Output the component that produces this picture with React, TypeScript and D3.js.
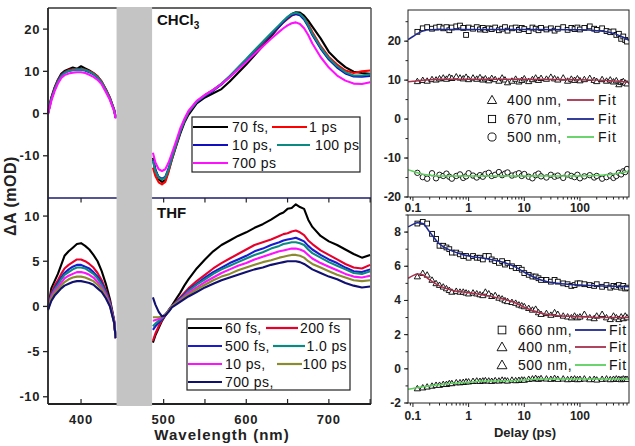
import React from 'react';
import * as d3 from 'd3';

// ---------- Spectra (left panels) ----------
const wlLeft = [360, 364, 368, 372, 376, 380, 385, 390, 395, 400, 405, 410, 415, 420, 425, 430, 435, 440, 442];
const wlRight = [487, 490, 494, 498, 502, 506, 510, 515, 520, 525, 530, 540, 550, 560, 570, 580, 590, 600, 610, 620, 630, 640, 645, 650, 655, 660, 665, 670, 675, 680, 690, 700, 710, 720, 730, 740, 750];

// CHCl3
const c70fsL = [0.3, 3.8, 6.2, 8.0, 9.4, 10.1, 10.5, 10.9, 10.6, 11.2, 10.7, 10.2, 9.6, 8.8, 7.5, 5.7, 3.6, 0.9, -1.0];
const c70fsR = [-10.5, -13.2, -15.6, -16.2, -15.8, -13.5, -10.8, -7.8, -4.8, -2.2, -0.3, 2.4, 3.8, 4.8, 5.8, 7.6, 9.6, 11.6, 13.8, 16.0, 18.3, 20.6, 21.8, 22.7, 23.6, 24.0, 23.9, 23.2, 22.0, 20.6, 17.8, 14.6, 12.6, 11.0, 9.9, 9.6, 9.4];
const c1psL = [0.1, 3.6, 6.0, 7.9, 9.1, 9.8, 10.3, 10.5, 10.6, 10.5, 10.4, 10.0, 9.6, 8.8, 7.6, 5.8, 3.8, 1.0, -0.8];
const c1psR = [-12.8, -14.8, -16.3, -16.8, -16.2, -13.8, -10.9, -7.6, -4.3, -1.8, 0.2, 2.8, 4.4, 5.6, 7.0, 8.7, 10.6, 12.6, 14.6, 16.7, 18.7, 20.6, 21.6, 22.4, 23.2, 23.6, 23.4, 22.6, 21.2, 19.3, 16.0, 13.4, 11.6, 10.2, 9.6, 10.0, 10.2];
const c10psL = [0.0, 3.4, 5.8, 7.7, 9.0, 9.7, 10.1, 10.3, 10.4, 10.4, 10.2, 9.8, 9.3, 8.5, 7.3, 5.5, 3.5, 0.8, -1.0];
const c10psR = [-11.0, -13.4, -15.0, -15.4, -15.0, -13.0, -10.4, -7.3, -4.2, -1.7, 0.3, 2.7, 4.2, 5.4, 6.9, 8.7, 10.7, 12.7, 14.8, 16.8, 18.8, 20.7, 21.7, 22.6, 23.3, 23.6, 23.3, 22.3, 20.6, 18.6, 15.4, 12.8, 10.9, 9.5, 8.8, 8.7, 8.9];
const c100psL = [0.0, 3.4, 5.7, 7.6, 8.9, 9.6, 10.1, 10.3, 10.4, 10.4, 10.3, 9.9, 9.4, 8.6, 7.4, 5.6, 3.6, 0.9, -0.9];
const c100psR = [-11.2, -13.6, -15.2, -15.6, -15.2, -13.2, -10.6, -7.4, -4.3, -1.8, 0.3, 2.8, 4.3, 5.6, 7.1, 8.9, 10.9, 12.9, 15.0, 17.0, 19.0, 21.0, 22.0, 22.9, 23.6, 23.9, 23.6, 22.6, 20.9, 18.9, 15.7, 13.1, 11.2, 9.8, 9.0, 9.0, 9.3];
const c700psL = [-0.2, 3.0, 5.3, 7.1, 8.4, 9.1, 9.5, 9.7, 9.8, 9.8, 9.6, 9.2, 8.7, 8.0, 6.9, 5.1, 3.2, 0.6, -1.2];
const c700psR = [-9.3, -11.6, -13.2, -13.6, -13.2, -11.6, -9.4, -6.6, -3.6, -1.3, 0.6, 3.0, 4.4, 5.6, 7.0, 8.6, 10.4, 12.2, 14.1, 15.9, 17.7, 19.4, 20.2, 20.9, 21.4, 21.6, 21.2, 20.2, 18.6, 16.6, 13.4, 10.9, 9.0, 7.8, 7.1, 7.0, 7.4];

// THF
const t60fsL = [-0.3, 2.0, 2.8, 3.6, 4.6, 5.6, 6.1, 6.5, 6.9, 7.0, 6.7, 6.3, 5.7, 5.0, 3.9, 2.5, 0.8, -1.5, -3.5];
const t200fsL = [-0.3, 1.5, 2.3, 2.9, 3.6, 4.2, 4.6, 4.9, 5.2, 5.2, 5.0, 4.7, 4.3, 3.7, 2.9, 1.8, 0.5, -1.6, -3.5];
const t500fsL = [-0.3, 1.3, 2.0, 2.6, 3.2, 3.7, 4.1, 4.4, 4.6, 4.6, 4.4, 4.2, 3.8, 3.3, 2.6, 1.6, 0.4, -1.6, -3.5];
const t1psL = [-0.3, 1.2, 1.9, 2.4, 3.0, 3.5, 3.8, 4.1, 4.3, 4.3, 4.2, 3.9, 3.6, 3.1, 2.4, 1.5, 0.3, -1.7, -3.5];
const t10psL = [-0.3, 1.1, 1.7, 2.1, 2.6, 3.1, 3.4, 3.6, 3.8, 3.8, 3.7, 3.5, 3.2, 2.7, 2.1, 1.3, 0.2, -1.7, -3.5];
const t100psL = [-0.3, 0.9, 1.5, 1.9, 2.3, 2.7, 3.0, 3.2, 3.3, 3.3, 3.2, 3.0, 2.8, 2.4, 1.9, 1.1, 0.1, -1.8, -3.5];
const t700psL = [-0.4, 0.6, 1.2, 1.6, 2.0, 2.3, 2.5, 2.7, 2.8, 2.8, 2.7, 2.6, 2.4, 2.0, 1.6, 0.9, 0.0, -1.8, -3.5];
const t60fsR = [-4.0, -3.2, -2.4, -1.6, -1.0, -0.4, 0.1, 0.8, 1.5, 2.3, 3.0, 4.2, 5.2, 6.1, 6.8, 7.3, 7.8, 8.2, 8.7, 9.1, 9.6, 10.2, 10.4, 10.8, 10.9, 11.3, 11.0, 10.8, 9.6, 8.8, 7.8, 7.2, 6.8, 6.3, 5.8, 5.4, 5.7];
const t200fsR = [-3.8, -3.0, -2.2, -1.5, -1.0, -0.5, 0.0, 0.5, 1.0, 1.5, 2.0, 2.8, 3.5, 4.2, 4.8, 5.3, 5.8, 6.3, 6.8, 7.1, 7.4, 7.8, 8.0, 8.1, 8.3, 8.4, 8.2, 7.9, 7.3, 6.9, 6.2, 5.7, 5.2, 4.7, 4.3, 4.2, 4.6];
const t500fsR = [-2.6, -2.2, -1.8, -1.4, -0.9, -0.5, 0.0, 0.4, 0.9, 1.3, 1.8, 2.5, 3.2, 3.8, 4.3, 4.8, 5.2, 5.6, 6.1, 6.4, 6.8, 7.1, 7.3, 7.4, 7.5, 7.6, 7.4, 7.2, 6.7, 6.3, 5.7, 5.2, 4.8, 4.3, 3.9, 3.8, 4.1];
const t1psR = [-2.2, -1.9, -1.6, -1.3, -0.9, -0.5, 0.0, 0.4, 0.8, 1.2, 1.7, 2.4, 3.0, 3.6, 4.1, 4.5, 4.9, 5.3, 5.7, 6.0, 6.4, 6.7, 6.9, 7.0, 7.1, 7.1, 7.0, 6.8, 6.3, 5.9, 5.4, 4.9, 4.5, 4.1, 3.7, 3.6, 3.9];
const t10psR = [-1.6, -1.5, -1.4, -1.2, -0.9, -0.5, 0.0, 0.3, 0.7, 1.1, 1.5, 2.1, 2.7, 3.2, 3.7, 4.1, 4.5, 4.8, 5.2, 5.5, 5.8, 6.1, 6.2, 6.3, 6.4, 6.4, 6.3, 6.1, 5.7, 5.3, 4.8, 4.4, 4.0, 3.6, 3.3, 3.2, 3.4];
const t100psR = [-1.2, -1.2, -1.2, -1.1, -0.9, -0.5, 0.0, 0.3, 0.6, 1.0, 1.3, 1.9, 2.4, 2.9, 3.3, 3.6, 4.0, 4.3, 4.6, 4.9, 5.1, 5.4, 5.5, 5.6, 5.7, 5.7, 5.6, 5.4, 5.0, 4.7, 4.3, 3.9, 3.5, 3.2, 2.9, 2.8, 2.9];
const t700psR = [1.0, 0.2, -0.6, -1.1, -1.0, -0.6, -0.1, 0.2, 0.5, 0.8, 1.1, 1.6, 2.1, 2.5, 2.9, 3.2, 3.5, 3.8, 4.1, 4.3, 4.6, 4.8, 4.9, 5.0, 5.0, 5.0, 4.9, 4.7, 4.4, 4.1, 3.7, 3.3, 3.0, 2.6, 2.3, 2.1, 2.2];

// ---------- Kinetics (right panels) ----------
const delays = [0.12, 0.15, 0.18, 0.22, 0.26, 0.3, 0.35, 0.4, 0.45, 0.5, 0.6, 0.7, 0.8, 0.9, 1.0, 1.2, 1.4, 1.6, 1.8, 2.0, 2.3, 2.6, 3.0, 3.5, 4.0, 4.5, 5.0, 6.0, 7.0, 8.0, 9.0, 10, 12, 14, 16, 18, 20, 25, 30, 35, 40, 50, 60, 70, 80, 90, 100, 120, 150, 180, 200, 250, 300, 350, 400, 450, 500, 550, 600, 650, 700];

const chclSq670 = [22.4, 23.3, 23.6, 23.2, 23.5, 23.7, 23.3, 23.6, 22.8, 23.5, 23.8, 24.0, 23.4, 21.6, 23.5, 23.2, 23.6, 23.0, 23.4, 22.9, 23.3, 23.1, 23.5, 22.8, 23.2, 23.6, 22.7, 23.3, 23.5, 22.9, 23.4, 23.1, 22.6, 23.5, 23.2, 22.8, 23.4, 23.0, 23.3, 22.7, 23.2, 23.6, 22.9, 23.4, 23.1, 23.5, 23.0, 23.4, 23.8, 23.2, 22.9, 23.3, 22.6, 22.3, 22.5, 21.6, 21.9, 20.6, 21.2, 20.3, 19.9];
const chclTri400 = [9.7, 10.0, 9.8, 10.2, 10.1, 10.4, 10.6, 10.3, 10.8, 10.5, 10.9, 10.6, 10.4, 10.8, 10.2, 10.6, 10.3, 10.7, 10.1, 10.4, 9.9, 10.5, 10.2, 9.8, 10.6, 10.1, 9.4, 9.8, 10.3, 9.6, 10.0, 10.4, 9.7, 10.2, 10.6, 10.0, 10.5, 10.3, 10.8, 10.4, 10.1, 10.6, 9.8, 10.3, 10.0, 10.4, 9.9, 10.2, 10.5, 10.0, 9.7, 10.2, 9.8, 10.1, 9.6, 9.9, 8.9, 9.5, 9.7, 9.3, 9.1];
const chclCirc500 = [-13.8, -14.9, -15.3, -13.9, -15.2, -14.3, -14.6, -14.0, -14.8, -15.3, -14.6, -14.2, -15.1, -14.7, -13.9, -14.5, -15.0, -14.4, -14.8, -14.1, -13.8, -14.6, -14.3, -13.6, -14.4, -14.0, -13.7, -14.5, -14.2, -13.9, -14.6, -14.1, -14.8, -15.2, -14.4, -14.0, -14.7, -15.0, -14.3, -14.8, -14.5, -15.1, -14.2, -14.6, -14.9, -14.3, -15.2, -14.7, -14.4, -15.0, -14.6, -15.3, -14.9, -14.5, -15.1, -14.6, -13.8, -14.2, -13.4, -13.6, -12.8];
const fitDelaysTop = [0.082, 0.1, 0.13, 0.16, 0.2, 0.3, 1, 10, 100, 200, 300, 400, 500, 600, 760];
const chclFit670 = [20.4, 21.2, 22.2, 22.7, 22.9, 23.0, 23.0, 23.0, 22.9, 22.7, 22.4, 22.0, 21.5, 21.0, 20.2];
const chclFit400 = [9.6, 9.7, 9.9, 10.0, 10.1, 10.2, 10.2, 10.2, 10.1, 10.0, 9.9, 9.8, 9.7, 9.6, 9.4];
const chclFit500 = [-13.0, -13.4, -13.9, -14.2, -14.4, -14.6, -14.6, -14.6, -14.6, -14.5, -14.3, -14.1, -13.9, -13.7, -13.3];

const thfSq660 = [8.5, 8.6, 8.5, 7.9, 7.6, 7.2, 7.2, 7.1, 7.0, 6.8, 6.8, 6.7, 6.6, 6.6, 6.5, 6.6, 6.5, 6.5, 6.4, 6.6, 6.6, 6.4, 6.3, 6.2, 6.3, 6.1, 6.2, 6.0, 5.9, 5.9, 5.8, 5.6, 5.5, 5.4, 5.4, 5.3, 5.2, 5.2, 5.1, 5.2, 5.1, 5.0, 4.95, 4.85, 4.9, 5.0, 5.0, 4.95, 4.9, 4.85, 4.95, 4.8, 4.9, 4.75, 4.85, 4.8, 4.9, 4.75, 4.85, 4.7, 4.75];
const thfTri400 = [5.4, 5.6, 5.5, 5.2, 5.0, 4.9, 4.8, 4.7, 4.6, 4.5, 4.55, 4.5, 4.5, 4.45, 4.4, 4.45, 4.4, 4.35, 4.3, 4.5, 4.4, 4.25, 4.3, 4.15, 4.1, 4.0, 3.95, 3.9, 3.85, 3.75, 3.7, 3.65, 3.55, 3.45, 3.5, 3.3, 3.2, 3.25, 3.15, 3.3, 3.2, 3.1, 3.05, 3.0, 3.1, 3.0, 3.05, 3.2, 3.0, 2.95, 3.1, 3.2, 3.0, 2.9, 3.1, 3.0, 2.9, 3.05, 2.95, 3.1, 3.0];
const thfTri500 = [-1.15, -1.1, -1.05, -1.0, -0.95, -0.95, -0.9, -0.9, -0.85, -0.85, -0.8, -0.8, -0.78, -0.75, -0.75, -0.72, -0.7, -0.72, -0.7, -0.68, -0.7, -0.72, -0.68, -0.7, -0.65, -0.68, -0.7, -0.65, -0.68, -0.66, -0.64, -0.65, -0.6, -0.58, -0.55, -0.6, -0.56, -0.58, -0.6, -0.55, -0.6, -0.58, -0.62, -0.6, -0.58, -0.62, -0.6, -0.58, -0.62, -0.6, -0.64, -0.6, -0.58, -0.62, -0.6, -0.58, -0.6, -0.62, -0.58, -0.6, -0.6];
const fitDelaysBot = [0.082, 0.1, 0.12, 0.15, 0.2, 0.3, 0.5, 1, 2, 4, 7, 10, 20, 40, 100, 300, 760];
const thfFit660 = [8.3, 8.45, 8.55, 8.5, 8.0, 7.3, 6.9, 6.6, 6.45, 6.25, 5.95, 5.65, 5.2, 5.0, 4.9, 4.85, 4.8];
const thfFit400 = [5.3, 5.45, 5.55, 5.5, 5.2, 4.85, 4.6, 4.45, 4.3, 4.1, 3.85, 3.6, 3.25, 3.1, 3.05, 3.0, 3.0];
const thfFit500 = [-1.2, -1.15, -1.1, -1.05, -1.0, -0.93, -0.85, -0.78, -0.72, -0.7, -0.68, -0.65, -0.6, -0.6, -0.6, -0.6, -0.6];

// ---------- tick labels ----------
const wlTicks = [400, 500, 600, 700];
const wlMinor = [400, 450, 500, 550, 600, 650, 700, 750];
const chclYTicks = [20, 10, 0, -10];
const thfYTicks = [10, 5, 0, -5, -10];
const rTopYTicks = [20, 10, 0, -10, -20];
const rBotYTicks = [8, 6, 4, 2, 0, -2];
const delayTickLabels = ['0.1', '1', '10', '100'];

const FONT = "Arial, 'Liberation Sans', Helvetica, sans-serif";

const chclSeries = [
  { label: '70 fs,', color: '#000000', L: c70fsL, R: c70fsR },
  { label: '1 ps', color: '#ff0000', L: c1psL, R: c1psR },
  { label: '10 ps,', color: '#1010c0', L: c10psL, R: c10psR },
  { label: '100 ps', color: '#0a8a80', L: c100psL, R: c100psR },
  { label: '700 ps', color: '#ff10ff', L: c700psL, R: c700psR },
];
const thfSeries = [
  { label: '60 fs,', color: '#000000', L: t60fsL, R: t60fsR },
  { label: '200 fs', color: '#e8002a', L: t200fsL, R: t200fsR },
  { label: '500 fs,', color: '#1a1ad0', L: t500fsL, R: t500fsR },
  { label: '1.0 ps', color: '#0a8a80', L: t1psL, R: t1psR },
  { label: '10 ps,', color: '#ff10ff', L: t10psL, R: t10psR },
  { label: '100 ps', color: '#8a8a30', L: t100psL, R: t100psR },
  { label: '700 ps,', color: '#101070', L: t700psL, R: t700psR },
];

const FIT_BLUE = '#1f2a90';
const FIT_RED = '#a8304c';
const FIT_GREEN = '#5cd05c';

function Marker({ shape, cx, cy, s = 1 }: { shape: string; cx: number; cy: number; s?: number }) {
  if (shape === 'square') {
    const h = 2.4 * s;
    return <rect x={cx - h} y={cy - h} width={2 * h} height={2 * h} fill="#fff" stroke="#000" strokeWidth={0.9} />;
  }
  if (shape === 'triangle') {
    const h = 3.1 * s;
    return <path d={`M${cx},${cy - h}L${cx + h},${cy + h * 0.75}L${cx - h},${cy + h * 0.75}Z`} fill="#fff" stroke="#000" strokeWidth={0.9} />;
  }
  return <circle cx={cx} cy={cy} r={2.7 * s} fill="#fff" stroke="#000" strokeWidth={0.9} />;
}

export default function App() {
  const xL = d3.scaleLinear().domain([360, 751]).range([48, 371]);
  const yT = d3.scaleLinear().domain([-20, 25]).range([198, 8]);
  const yB = d3.scaleLinear().domain([-10.8, 12]).range([404, 198]);
  const xR = d3.scaleLog().domain([0.0815, 760]).range([408, 629]);
  const yRT = d3.scaleLinear().domain([-20, 28]).range([197, 10]);
  const yRB = d3.scaleLinear().domain([-2, 9]).range([403, 215]);

  const spec = (xs: number[], ys: number[], y: d3.ScaleLinear<number, number>) =>
    d3.line<number>().x((_, i) => xL(xs[i])).y((d) => y(d))(ys) || '';

  const fitLine = (xs: number[], ys: number[], y: d3.ScaleLinear<number, number>) =>
    d3.line<number>().x((_, i) => xR(xs[i])).y((d) => y(d)).curve(d3.curveMonotoneX)(ys) || '';

  const logTicks = xR.ticks().filter((t) => t >= 0.0815 && t <= 760);
  const isMajor = (t: number) => Math.abs(Math.log10(t) - Math.round(Math.log10(t))) < 1e-6;

  const leftPanel = (series: typeof chclSeries, y: d3.ScaleLinear<number, number>, key: string) => (
    <g key={key}>
      {series.map((s, i) => (
        <g key={i}>
          <path d={spec(wlLeft, s.L, y)} fill="none" stroke={s.color} strokeWidth={2.1} strokeLinejoin="round" />
          <path d={spec(wlRight, s.R, y)} fill="none" stroke={s.color} strokeWidth={2.1} strokeLinejoin="round" />
        </g>
      ))}
    </g>
  );

  const rightPanel = (
    y: d3.ScaleLinear<number, number>,
    yTicks: number[],
    yMinorStep: number,
    pts: { vals: number[]; shape: string }[],
    fits: { xs: number[]; vals: number[]; color: string }[],
    key: string,
    labelY: number
  ) => {
    const [y0, y1] = y.domain();
    const minor = d3.range(Math.ceil(y0 / yMinorStep) * yMinorStep, y1 + 1e-9, yMinorStep);
    const [ry0, ry1] = y.range();
    return (
      <g key={key}>
        <defs>
          <clipPath id={`clip-${key}`}>
            <rect x={408} y={ry1} width={221} height={ry0 - ry1} />
          </clipPath>
        </defs>
        <g clipPath={`url(#clip-${key})`}>
          {pts.map((p, si) => (
            <g key={si}>
              {p.vals.map((v, i) => (
                <Marker key={i} shape={p.shape} cx={xR(delays[i])} cy={y(v)} />
              ))}
            </g>
          ))}
          {fits.map((f, i) => (
            <path key={i} d={fitLine(f.xs, f.vals, y)} fill="none" stroke={f.color} strokeWidth={1.5} />
          ))}
        </g>
        <rect x={408} y={ry1} width={221} height={ry0 - ry1} fill="none" stroke="#222" strokeWidth={1} />
        {minor.map((t, i) => (
          <line key={'m' + i} x1={405.5} x2={408} y1={y(t)} y2={y(t)} stroke="#222" strokeWidth={1} />
        ))}
        {yTicks.map((t) => (
          <g key={t}>
            <line x1={404} x2={408} y1={y(t)} y2={y(t)} stroke="#222" strokeWidth={1} />
            <text x={401} y={y(t) + 4} textAnchor="end" fontSize={12} fontWeight="bold" fill="#222" fontFamily={FONT}>
              {t}
            </text>
          </g>
        ))}
        {logTicks.map((t, i) => (
          <line key={'x' + i} x1={xR(t)} x2={xR(t)} y1={ry0} y2={ry0 + (isMajor(t) ? 4 : 2.5)} stroke="#222" strokeWidth={1} />
        ))}
        {delayTickLabels.map((l) => (
          <text key={l} x={xR(+l)} y={labelY} textAnchor="middle" fontSize={12} fontWeight="bold" fill="#222" fontFamily={FONT}>
            {l}
          </text>
        ))}
      </g>
    );
  };

  const legendLine = (x1: number, x2: number, y: number, color: string) => (
    <line x1={x1} x2={x2} y1={y} y2={y} stroke={color} strokeWidth={2.2} />
  );
  const legendText = (x: number, y: number, t: string, anchor = 'start') => (
    <text x={x} y={y + 5} fontSize={14} fill="#111" fontFamily={FONT} textAnchor={anchor} letterSpacing={0.4}>
      {t}
    </text>
  );

  return (
    <svg width={635} height={446} style={{ position: 'absolute', left: 0, top: 0, background: '#fff' }} fontFamily={FONT}>
      <rect x={0} y={0} width={635} height={446} fill="#fff" />
      {/* left spectra */}
      {leftPanel(chclSeries, yT, 'top')}
      {leftPanel(thfSeries, yB, 'bot')}

      {/* left frames */}
      <line x1={48} x2={371} y1={8} y2={8} stroke="#333" strokeWidth={1.5} />
      <line x1={371} x2={371} y1={8} y2={404} stroke="#555" strokeWidth={1.5} />
      <line x1={48} x2={48} y1={8} y2={404} stroke="#222" strokeWidth={1.8} />
      <line x1={48} x2={371} y1={404} y2={404} stroke="#222" strokeWidth={1.8} />
      <line x1={48} x2={371} y1={198} y2={198} stroke="#1c1c70" strokeWidth={1.5} />
      {wlMinor.map((w) => (
        <g key={w}>
          <line x1={xL(w)} x2={xL(w)} y1={198} y2={202.5} stroke="#222" strokeWidth={1.2} />
          <line x1={xL(w)} x2={xL(w)} y1={404} y2={399} stroke="#222" strokeWidth={1.2} />
        </g>
      ))}
      {chclYTicks.map((t) => (
        <g key={'ct' + t}>
          <line x1={43} x2={48} y1={yT(t)} y2={yT(t)} stroke="#222" strokeWidth={1.3} />
          <text x={40} y={yT(t) + 4.5} textAnchor="end" fontSize={13} fontWeight="bold" fill="#222" letterSpacing={0.6}>
            {t}
          </text>
        </g>
      ))}
      {thfYTicks.map((t) => (
        <g key={'tt' + t}>
          <line x1={43} x2={48} y1={yB(t)} y2={yB(t)} stroke="#222" strokeWidth={1.3} />
          <text x={40} y={yB(t) + 4.5} textAnchor="end" fontSize={13} fontWeight="bold" fill="#222" letterSpacing={0.6}>
            {t}
          </text>
        </g>
      ))}
      {wlTicks.map((w) => (
        <text key={w} x={xL(w)} y={424} textAnchor="middle" fontSize={13} fontWeight="bold" fill="#222" letterSpacing={0.8}>
          {w}
        </text>
      ))}

      {/* grey excluded band */}
      <rect x={xL(443)} y={7} width={xL(486) - xL(443)} height={399} fill="#c4c4c4" />

      {/* panel labels */}
      <text x={157} y={25} fontSize={15} fontWeight="bold" fill="#111">
        CHCl<tspan fontSize={10} dy={4}>3</tspan>
      </text>
      <text x={157} y={218} fontSize={15} fontWeight="bold" fill="#111">THF</text>

      {/* axis titles */}
      <text transform="translate(16,196) rotate(-90)" textAnchor="middle" fontSize={16} fontWeight="bold" fill="#222" letterSpacing={0.5}>
        ΔA (mOD)
      </text>
      <text x={222} y={440} textAnchor="middle" fontSize={15} fontWeight="bold" fill="#222" letterSpacing={1}>
        Wavelength (nm)
      </text>

      {/* legend CHCl3 */}
      <rect x={192} y={117} width={168} height={55} fill="#fff" stroke="#222" strokeWidth={1.2} />
      {legendLine(193, 228, 127, chclSeries[0].color)}
      {legendText(232, 127, chclSeries[0].label)}
      {legendLine(272, 307, 127, chclSeries[1].color)}
      {legendText(309, 127, chclSeries[1].label)}
      {legendLine(193, 228, 145, chclSeries[2].color)}
      {legendText(232, 145, chclSeries[2].label)}
      {legendLine(277, 310, 145, chclSeries[3].color)}
      {legendText(315, 145, chclSeries[3].label)}
      {legendLine(193, 228, 163, chclSeries[4].color)}
      {legendText(232, 163, chclSeries[4].label)}

      {/* legend THF */}
      <rect x={187} y={319} width={163} height={71} fill="#fff" stroke="#222" strokeWidth={1.2} />
      {legendLine(188, 222, 328, thfSeries[0].color)}
      {legendText(225, 328, thfSeries[0].label)}
      {legendLine(266, 298, 328, thfSeries[1].color)}
      {legendText(300, 328, thfSeries[1].label)}
      {legendLine(188, 222, 346, thfSeries[2].color)}
      {legendText(225, 346, thfSeries[2].label)}
      {legendLine(273, 305, 346, thfSeries[3].color)}
      {legendText(347, 346, thfSeries[3].label, 'end')}
      {legendLine(188, 222, 364, thfSeries[4].color)}
      {legendText(225, 364, thfSeries[4].label)}
      {legendLine(277, 302, 364, thfSeries[5].color)}
      {legendText(347, 364, thfSeries[5].label, 'end')}
      {legendLine(188, 222, 382, thfSeries[6].color)}
      {legendText(225, 382, thfSeries[6].label)}

      {/* right panels */}
      {rightPanel(
        yRT,
        rTopYTicks,
        5,
        [
          { vals: chclCirc500, shape: 'circle' },
          { vals: chclTri400, shape: 'triangle' },
          { vals: chclSq670, shape: 'square' },
        ],
        [
          { xs: fitDelaysTop, vals: chclFit670, color: FIT_BLUE },
          { xs: fitDelaysTop, vals: chclFit400, color: FIT_RED },
          { xs: fitDelaysTop, vals: chclFit500, color: FIT_GREEN },
        ],
        'rt',
        212
      )}
      {rightPanel(
        yRB,
        rBotYTicks,
        1,
        [
          { vals: thfTri500, shape: 'triangle' },
          { vals: thfTri400, shape: 'triangle' },
          { vals: thfSq660, shape: 'square' },
        ],
        [
          { xs: fitDelaysBot, vals: thfFit660, color: FIT_BLUE },
          { xs: fitDelaysBot, vals: thfFit400, color: FIT_RED },
          { xs: fitDelaysBot, vals: thfFit500, color: FIT_GREEN },
        ],
        'rb',
        420
      )}
      <text x={525} y={437} textAnchor="middle" fontSize={13} fontWeight="bold" fill="#222">
        Delay (ps)
      </text>

      {/* right legends */}
      {[
        { shape: 'triangle', label: '400 nm,', color: FIT_RED, y: 100 },
        { shape: 'square', label: '670 nm,', color: FIT_BLUE, y: 119 },
        { shape: 'circle', label: '500 nm,', color: FIT_GREEN, y: 137 },
      ].map((r) => (
        <g key={r.label}>
          <Marker shape={r.shape} cx={492} cy={r.y} s={1.5} />
          <text x={507} y={r.y + 5} fontSize={14} fill="#111" letterSpacing={0.6}>{r.label}</text>
          <line x1={567} x2={594} y1={r.y} y2={r.y} stroke={r.color} strokeWidth={1.8} />
          <text x={598} y={r.y + 5} fontSize={14} fill="#111" letterSpacing={1.2}>Fit</text>
        </g>
      ))}
      {[
        { shape: 'square', label: '660 nm,', color: FIT_BLUE, y: 330 },
        { shape: 'triangle', label: '400 nm,', color: FIT_RED, y: 347 },
        { shape: 'triangle', label: '500 nm,', color: FIT_GREEN, y: 365 },
      ].map((r, i) => (
        <g key={i}>
          <Marker shape={r.shape} cx={502} cy={r.y} s={1.6} />
          <text x={518} y={r.y + 5} fontSize={14} fill="#111" letterSpacing={0.5}>{r.label}</text>
          <line x1={575} x2={606} y1={r.y} y2={r.y} stroke={r.color} strokeWidth={1.8} />
          <text x={609} y={r.y + 5} fontSize={14} fill="#111" letterSpacing={0.8}>Fit</text>
        </g>
      ))}
    </svg>
  );
}
